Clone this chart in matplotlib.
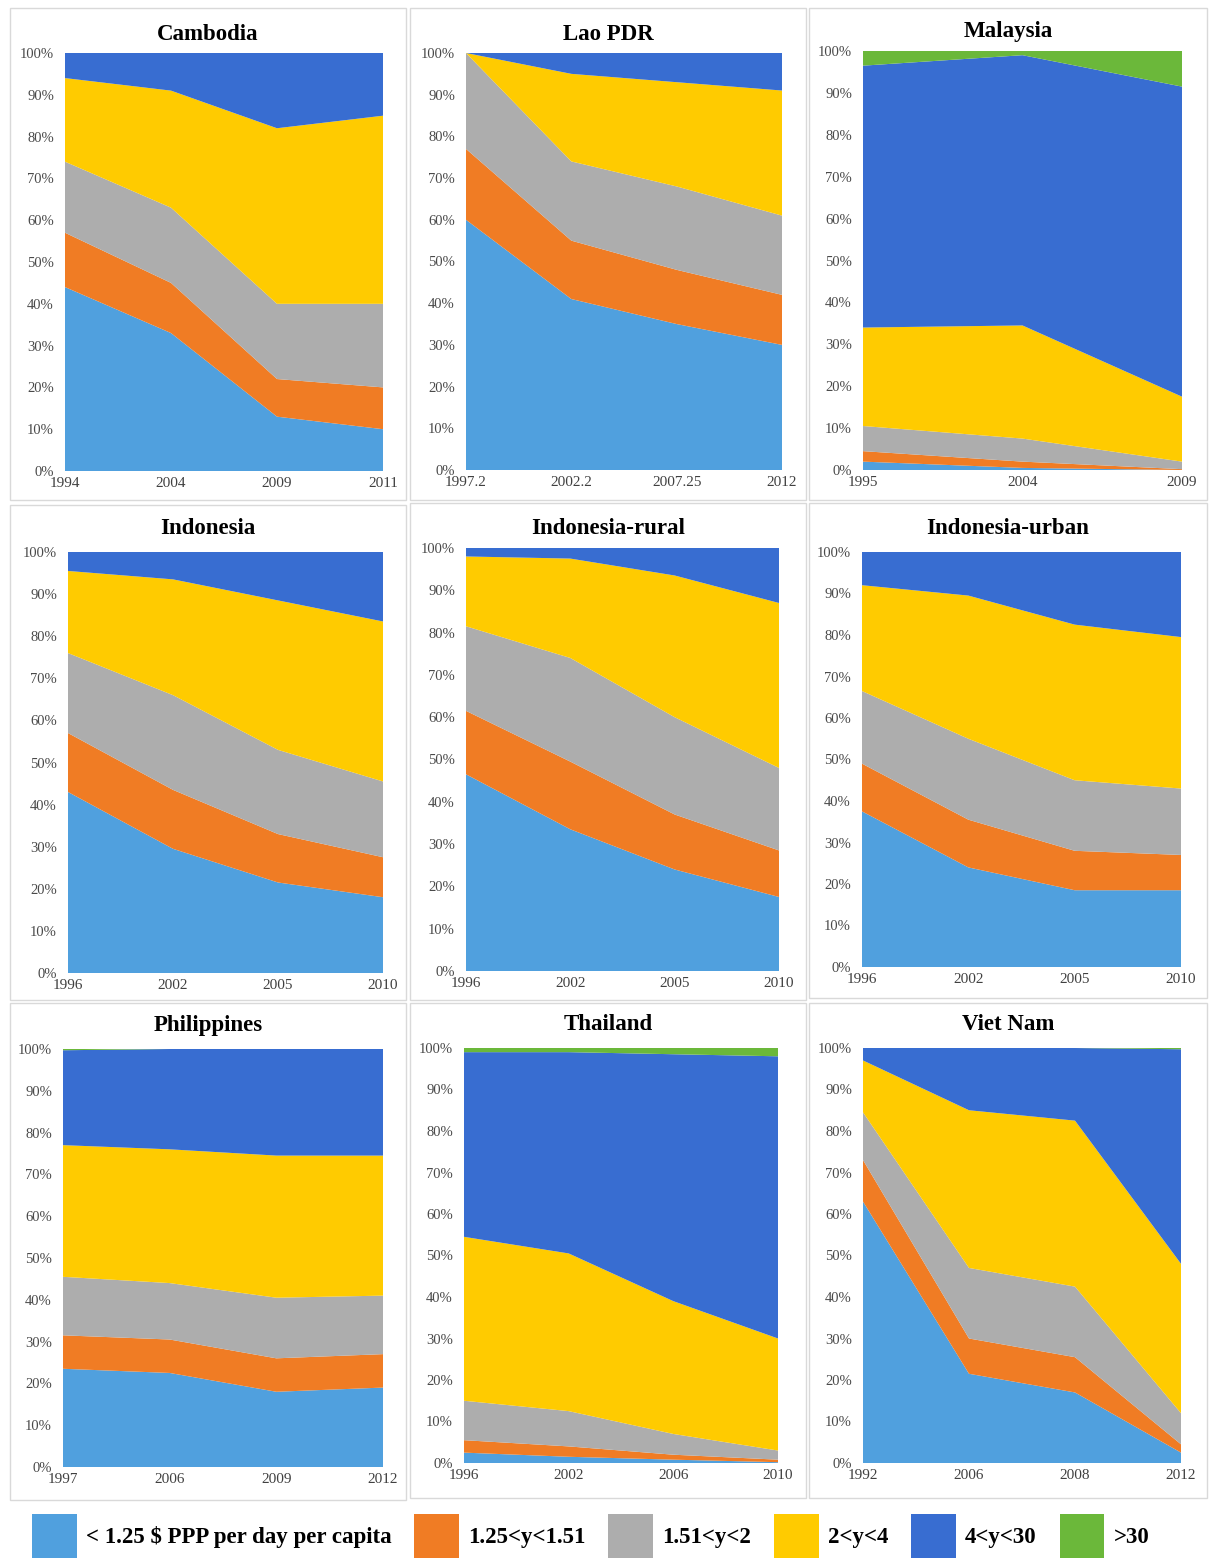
import matplotlib
matplotlib.use("Agg")
import matplotlib.pyplot as plt
from matplotlib.patches import Patch, Rectangle

# band order: <1.25, 1.25-1.51, 1.51-2, 2-4, 4-30, >30  (percent of population)
band_labels = ["< 1.25 $ PPP per day per capita", "1.25<y<1.51", "1.51<y<2",
               "2<y<4", "4<y<30", ">30"]
band_colors = ["#50A0DE", "#F07C24", "#ADADAD", "#FFCB00", "#386DD1", "#6BB83A"]

cambodia_years = ["1994", "2004", "2009", "2011"]
cambodia = [[44, 33, 13, 10],
            [13, 12, 9, 10],
            [17, 18, 18, 20],
            [20, 28, 42, 45],
            [6, 9, 18, 15],
            [0, 0, 0, 0]]

lao_years = ["1997.2", "2002.2", "2007.25", "2012"]
lao = [[60, 41, 35, 30],
       [17, 14, 13, 12],
       [23, 19, 20, 19],
       [0, 21, 25, 30],
       [0, 5, 7, 9],
       [0, 0, 0, 0]]

malaysia_years = ["1995", "2004", "2009"]
malaysia = [[2, 0.5, 0],
            [2.5, 1.5, 0.2],
            [6, 5.5, 1.8],
            [23.5, 27, 15.5],
            [62.5, 64.5, 74],
            [3.5, 1, 8.5]]

indonesia_years = ["1996", "2002", "2005", "2010"]
indonesia = [[43, 29.5, 21.5, 18],
             [14, 14, 11.5, 9.5],
             [19, 22.5, 20, 18],
             [19.5, 27.5, 35.5, 38],
             [4.5, 6.5, 11.5, 16.5],
             [0, 0, 0, 0]]

rural_years = ["1996", "2002", "2005", "2010"]
rural = [[46.5, 33.5, 24, 17.5],
         [15, 16, 13, 11],
         [20, 24.5, 23, 19.5],
         [16.5, 23.5, 33.5, 39],
         [2, 2.5, 6.5, 13],
         [0, 0, 0, 0]]

urban_years = ["1996", "2002", "2005", "2010"]
urban = [[37.5, 24, 18.5, 18.5],
         [11.5, 11.5, 9.5, 8.5],
         [17.5, 19.5, 17, 16],
         [25.5, 34.5, 37.5, 36.5],
         [8, 10.5, 17.5, 20.5],
         [0, 0, 0, 0]]

philippines_years = ["1997", "2006", "2009", "2012"]
philippines = [[23.5, 22.5, 18, 19],
               [8, 8, 8, 8],
               [14, 13.5, 14.5, 14],
               [31.5, 32, 34, 33.5],
               [22.7, 24, 25.5, 25.5],
               [0.3, 0, 0, 0]]

thailand_years = ["1996", "2002", "2006", "2010"]
thailand = [[2.5, 1.5, 0.8, 0.2],
            [3, 2.5, 1.2, 0.6],
            [9.5, 8.5, 5, 2.2],
            [39.5, 38, 32, 27],
            [44.5, 48.5, 59.5, 68],
            [1, 1, 1.5, 2]]

vietnam_years = ["1992", "2006", "2008", "2012"]
vietnam = [[63, 21.5, 17, 2.5],
           [10, 8.5, 8.5, 2],
           [11.5, 17, 17, 7.5],
           [12.5, 38, 40, 36],
           [3, 15, 17.5, 51.7],
           [0, 0, 0, 0.3]]

W, H = 1210, 1558
plt.rcParams["font.family"] = ["Liberation Serif", "DejaVu Serif"]

fig = plt.figure(figsize=(W / 100, H / 100), dpi=100)

# title, years, shares, axes box (left, top, right, bottom px), panel box (left, top, right, bottom px), title y
panels = [
    ("Cambodia", cambodia_years, cambodia, (65, 53, 383, 471), (10, 8, 406, 500), 34),
    ("Lao PDR", lao_years, lao, (466, 53, 782, 470), (410, 8, 806, 500), 34),
    ("Malaysia", malaysia_years, malaysia, (863, 51, 1182, 470), (809, 8, 1207, 500), 32),
    ("Indonesia", indonesia_years, indonesia, (68, 552, 383, 973), (10, 505, 406, 1000), 528),
    ("Indonesia-rural", rural_years, rural, (466, 548, 779, 971), (410, 503, 806, 1000), 528),
    ("Indonesia-urban", urban_years, urban, (862, 552, 1181, 967), (809, 503, 1207, 998), 528),
    ("Philippines", philippines_years, philippines, (63, 1049, 383, 1467), (10, 1003, 406, 1500), 1025),
    ("Thailand", thailand_years, thailand, (464, 1048, 778, 1463), (410, 1003, 806, 1498), 1025),
    ("Viet Nam", vietnam_years, vietnam, (863, 1048, 1181, 1463), (809, 1003, 1207, 1498), 1025),
]

for name, years, shares, ab, pb, ty in panels:
    # light gray frame around each panel
    fig.patches.append(Rectangle((pb[0] / W, 1 - pb[3] / H), (pb[2] - pb[0]) / W,
                                 (pb[3] - pb[1]) / H, transform=fig.transFigure,
                                 fill=False, edgecolor="#D9D9D9", linewidth=1))
    ax = fig.add_axes([ab[0] / W, 1 - ab[3] / H, (ab[2] - ab[0]) / W, (ab[3] - ab[1]) / H])
    x = list(range(len(years)))
    ax.stackplot(x, *shares, colors=band_colors, linewidth=0)
    ax.set_xlim(0, len(years) - 1)
    ax.set_ylim(0, 100)
    ax.set_xticks(x)
    ax.set_xticklabels(years)
    ax.set_yticks(range(0, 101, 10))
    ax.set_yticklabels([f"{v}%" for v in range(0, 101, 10)])
    ax.tick_params(axis="y", length=0, pad=8, labelsize=10.5, labelcolor="#4A4A4A")
    ax.tick_params(axis="x", length=0, pad=4, labelsize=11, labelcolor="#404040")
    for s in ax.spines.values():
        s.set_visible(False)
    fig.text((pb[0] + pb[2]) / 2 / W, 1 - ty / H, name, ha="center", va="center",
             fontsize=16.5, fontweight="bold")

handles = [Patch(facecolor=c, edgecolor="none") for c in band_colors]
fig.legend(handles, band_labels, loc="center", bbox_to_anchor=(0.488, 1 - 1536 / H),
           ncol=6, frameon=False, handlelength=1.95, handleheight=2.6,
           handletextpad=0.4, columnspacing=1.0, borderpad=0, borderaxespad=0,
           prop={"family": "Liberation Serif", "weight": "bold", "size": 16.5})

fig.savefig("out.png", dpi=100)
